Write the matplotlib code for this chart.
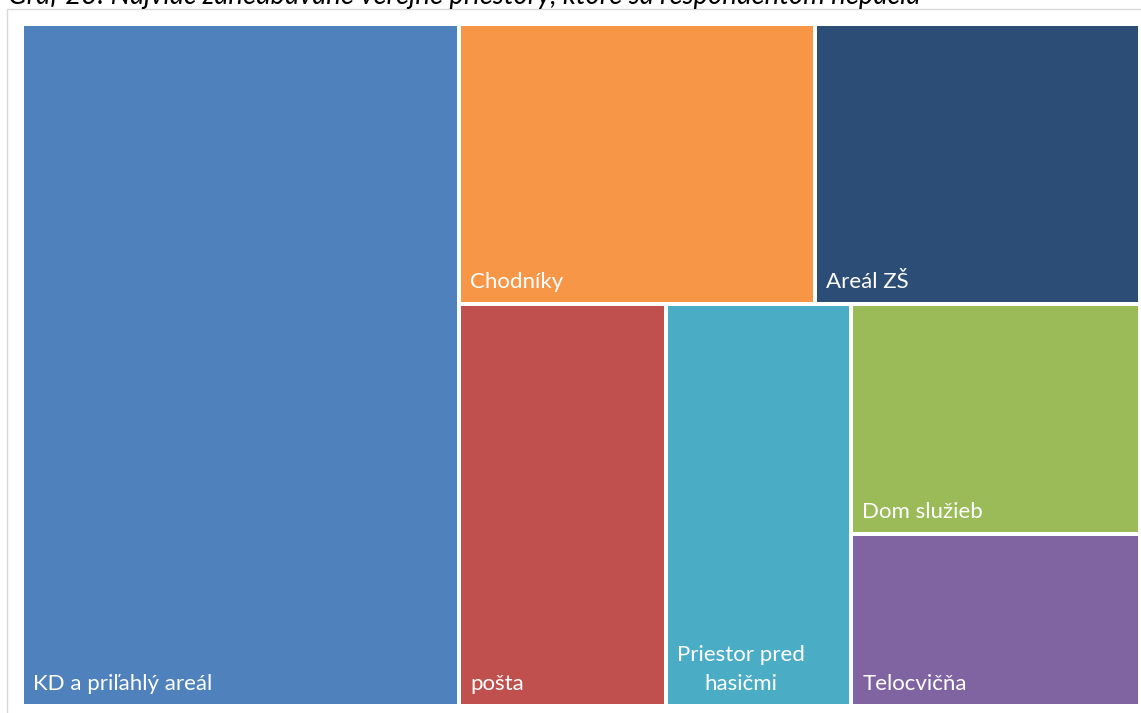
import matplotlib
matplotlib.use("Agg")
import matplotlib.pyplot as plt
from matplotlib.patches import Rectangle

plt.rcParams['font.family'] = ['Lato', 'DejaVu Sans']

# data (areas relative to each other)
categories = ['KD a priľahlý areál', 'Chodníky', 'Areál ZŠ', 'pošta',
              'Priestor pred\nhasičmi', 'Dom služieb', 'Telocvičňa']
values = [36, 12, 11, 10, 9, 8, 6]
colors = ['#4f81bd', '#f79646', '#2c4d75', '#c0504d', '#4bacc6', '#9bbb59', '#8064a2']
title = 'Graf 23: Najviac zanedbávané verejné priestory, ktoré sa respondentom nepáčia'

# nesting of the treemap as Excel drew it: 'h' = side by side, 'v' = stacked
layout = ('h', [0, ('v', [('h', [1, 2]), ('h', [3, 4, ('v', [5, 6])])])])


def total(node):
    if isinstance(node, int):
        return values[node]
    return sum(total(c) for c in node[1])


def place(node, x, y, w, h, out):
    """split a box proportionally to the values"""
    if isinstance(node, int):
        out[node] = (x, y, w, h)
        return
    kind, kids = node
    s = total(node)
    pos = x if kind == 'h' else y
    for k in kids:
        frac = total(k) / s
        if kind == 'h':
            place(k, pos, y, w * frac, h, out)
            pos += w * frac
        else:
            place(k, x, pos, w, h * frac, out)
            pos += h * frac


fig = plt.figure(figsize=(11.41, 7.13), dpi=100)
ax = fig.add_axes([0, 0, 1, 1])
ax.set_xlim(0, 1141)
ax.set_ylim(713, 0)
ax.axis('off')

# chart frame (only left and top edges visible in the crop)
ax.add_patch(Rectangle((7, 9), 1200, 800, facecolor='white', edgecolor='#d9d9d9', lw=1))

rects = {}
place(layout, 22, 24, 1118, 682, rects)
gap = 2
for i, name in enumerate(categories):
    x, y, w, h = rects[i]
    ax.add_patch(Rectangle((x + gap, y + gap), w - 2 * gap, h - 2 * gap,
                           facecolor=colors[i], edgecolor='none'))
    ax.text(x + gap + 9, y + h - gap - 14, name, color='white', fontsize=16,
            ha='left', va='baseline', multialignment='center', linespacing=1.55)

# title sits mostly above the crop, as in the source screenshot
ax.text(8, 4, title, fontsize=19.8, style='italic', color='black', ha='left', va='baseline')

fig.savefig('out.png', dpi=100)
